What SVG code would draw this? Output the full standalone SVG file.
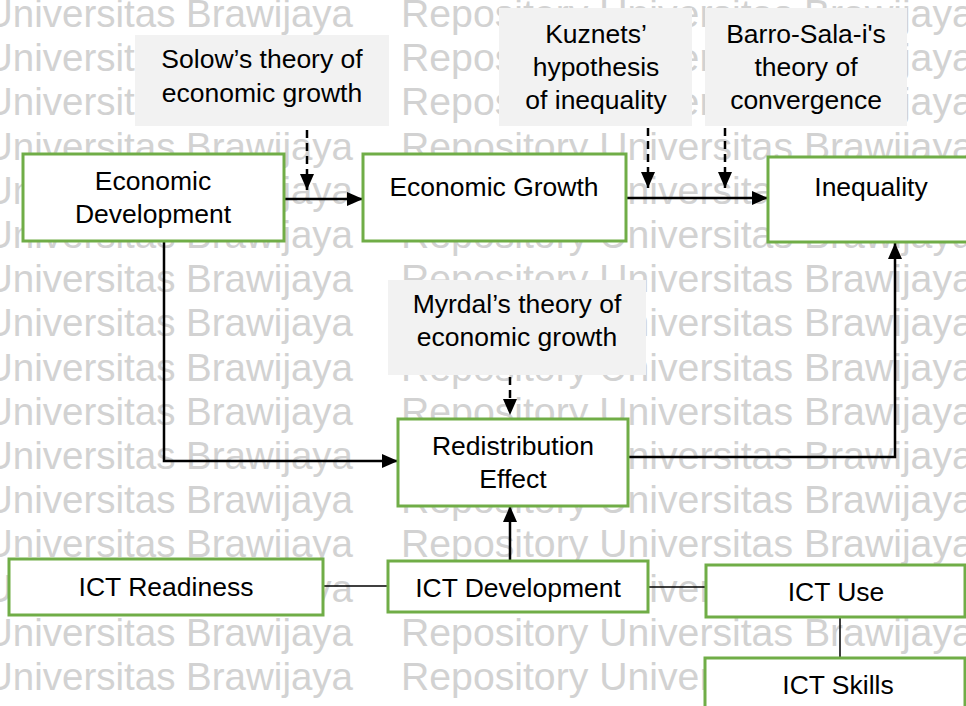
<svg xmlns="http://www.w3.org/2000/svg" width="966" height="706" viewBox="0 0 966 706">
<style>
.wm{font-family:"Liberation Sans",Arial,sans-serif;font-size:38.5px;fill:#d2d2d2}
.wm2{font-family:"Liberation Sans",Arial,sans-serif;font-size:39.2px;fill:#d2d2d2}
.box{fill:#ffffff;stroke:#70ad47;stroke-width:3}
.theory{fill:#f2f2f2;stroke:none}
.t{font-family:"Liberation Sans",Arial,sans-serif;font-size:26.5px;fill:#000;text-anchor:middle}
.ln{fill:none;stroke:#000;stroke-width:2.5}
.dash{fill:none;stroke:#000;stroke-width:2.5;stroke-dasharray:8 5}
.thin{fill:none;stroke:#000;stroke-width:1.5}
</style>
<defs>
<marker id="ah" markerUnits="userSpaceOnUse" markerWidth="16" markerHeight="14" refX="16" refY="7" orient="auto">
<path d="M0,0 L16,7 L0,14 z" fill="#000"/>
</marker>
</defs>
<rect width="966" height="706" fill="#fff"/>
<g id="watermark">
<text class="wm" x="-15" y="27">Universitas Brawijaya</text><text class="wm2" x="401" y="27">Repository Universitas Brawijaya</text>
<text class="wm" x="-15" y="71">Universitas Brawijaya</text><text class="wm2" x="401" y="71">Repository Universitas Brawijaya</text>
<text class="wm" x="-15" y="115">Universitas Brawijaya</text><text class="wm2" x="401" y="115">Repository Universitas Brawijaya</text>
<text class="wm" x="-15" y="160">Universitas Brawijaya</text><text class="wm2" x="401" y="160">Repository Universitas Brawijaya</text>
<text class="wm" x="-15" y="204">Universitas Brawijaya</text><text class="wm2" x="401" y="204">Repository Universitas Brawijaya</text>
<text class="wm" x="-15" y="248">Universitas Brawijaya</text><text class="wm2" x="401" y="248">Repository Universitas Brawijaya</text>
<text class="wm" x="-15" y="292">Universitas Brawijaya</text><text class="wm2" x="401" y="292">Repository Universitas Brawijaya</text>
<text class="wm" x="-15" y="336">Universitas Brawijaya</text><text class="wm2" x="401" y="336">Repository Universitas Brawijaya</text>
<text class="wm" x="-15" y="381">Universitas Brawijaya</text><text class="wm2" x="401" y="381">Repository Universitas Brawijaya</text>
<text class="wm" x="-15" y="425">Universitas Brawijaya</text><text class="wm2" x="401" y="425">Repository Universitas Brawijaya</text>
<text class="wm" x="-15" y="469">Universitas Brawijaya</text><text class="wm2" x="401" y="469">Repository Universitas Brawijaya</text>
<text class="wm" x="-15" y="513">Universitas Brawijaya</text><text class="wm2" x="401" y="513">Repository Universitas Brawijaya</text>
<text class="wm" x="-15" y="557">Universitas Brawijaya</text><text class="wm2" x="401" y="557">Repository Universitas Brawijaya</text>
<text class="wm" x="-15" y="602">Universitas Brawijaya</text><text class="wm2" x="401" y="602">Repository Universitas Brawijaya</text>
<text class="wm" x="-15" y="646">Universitas Brawijaya</text><text class="wm2" x="401" y="646">Repository Universitas Brawijaya</text>
<text class="wm" x="-15" y="690">Universitas Brawijaya</text><text class="wm2" x="401" y="690">Repository Universitas Brawijaya</text>
</g>
<g id="connectors">
<line class="ln" x1="285" y1="199" x2="363" y2="199" marker-end="url(#ah)"/>
<line class="ln" x1="626" y1="198" x2="768" y2="198" marker-end="url(#ah)"/>
<polyline class="ln" points="164,241 164,461 398,461" marker-end="url(#ah)"/>
<polyline class="ln" points="628,457 895,457 895,243" marker-end="url(#ah)"/>
<line class="ln" x1="510" y1="561" x2="510" y2="506" marker-end="url(#ah)"/>
<line class="dash" x1="307" y1="130" x2="307" y2="190" marker-end="url(#ah)"/>
<line class="dash" x1="648" y1="128" x2="648" y2="188" marker-end="url(#ah)"/>
<line class="dash" x1="725" y1="128" x2="725" y2="188" marker-end="url(#ah)"/>
<line class="dash" x1="510" y1="377" x2="510" y2="415" marker-end="url(#ah)"/>
<line class="thin" x1="323" y1="586" x2="388" y2="586"/>
<line class="thin" x1="648" y1="587" x2="706" y2="587"/>
<line class="thin" x1="840" y1="617" x2="840" y2="658"/>
</g>
<g id="solow">
<rect class="theory" x="135" y="35" width="254" height="91"/>
<text class="t" x="262" y="68">Solow’s theory of</text>
<text class="t" x="262" y="102">economic growth</text>
</g>
<g id="kuznets">
<rect class="theory" x="499" y="8" width="193" height="118"/>
<text class="t" x="596" y="43">Kuznets’</text>
<text class="t" x="596" y="76">hypothesis</text>
<text class="t" x="596" y="109">of inequality</text>
</g>
<g id="barro">
<rect class="theory" x="705" y="8" width="202" height="118"/>
<text class="t" x="806" y="43">Barro-Sala-i's</text>
<text class="t" x="806" y="76">theory of</text>
<text class="t" x="806" y="109">convergence</text>
</g>
<g id="myrdal">
<rect class="theory" x="388" y="280" width="258" height="95"/>
<text class="t" x="517" y="313">Myrdal’s theory of</text>
<text class="t" x="517" y="346">economic growth</text>
</g>
<g id="economic-development">
<rect class="box" x="23" y="154" width="261" height="87"/>
<text class="t" x="153" y="190">Economic</text>
<text class="t" x="153" y="223">Development</text>
</g>
<g id="economic-growth">
<rect class="box" x="363" y="154" width="263" height="87"/>
<text class="t" x="494" y="196">Economic Growth</text>
</g>
<g id="inequality">
<rect class="box" x="768" y="157" width="210" height="85"/>
<text class="t" x="871" y="196">Inequality</text>
</g>
<g id="redistribution">
<rect class="box" x="398" y="419" width="230" height="87"/>
<text class="t" x="513" y="455">Redistribution</text>
<text class="t" x="513" y="488">Effect</text>
</g>
<g id="ict-readiness">
<rect class="box" x="9" y="559" width="314" height="56"/>
<text class="t" x="166" y="596">ICT Readiness</text>
</g>
<g id="ict-development">
<rect class="box" x="388" y="561" width="260" height="51"/>
<text class="t" x="518" y="597">ICT Development</text>
</g>
<g id="ict-use">
<rect class="box" x="706" y="565" width="259" height="52"/>
<text class="t" x="836" y="601">ICT Use</text>
</g>
<g id="ict-skills">
<rect class="box" x="705" y="658" width="260" height="60"/>
<text class="t" x="838" y="694">ICT Skills</text>
</g>
</svg>
